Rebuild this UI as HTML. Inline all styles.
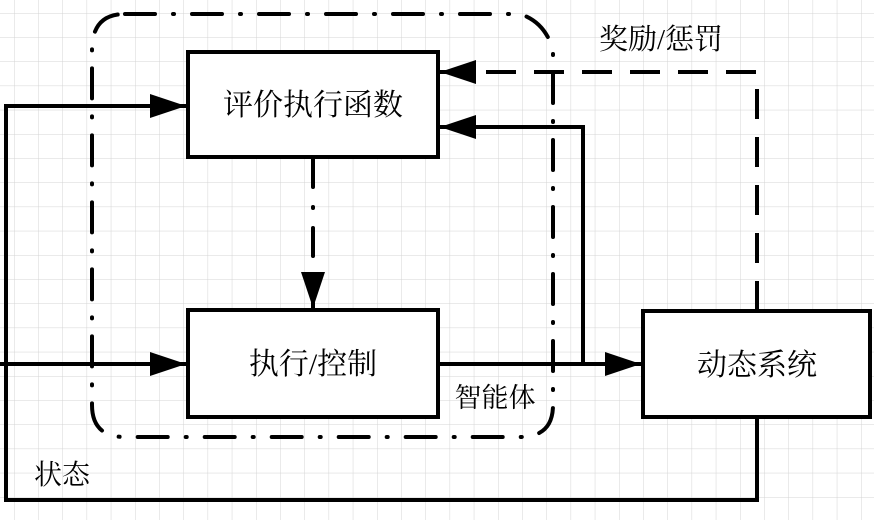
<!DOCTYPE html>
<html><head><meta charset="utf-8"><style>
html,body{margin:0;padding:0;background:#fff}
svg{display:block}
text{font-family:"Liberation Serif","Noto Serif CJK SC","Noto Sans CJK SC",serif;fill:#000}
</style></head><body>
<svg width="874" height="520" viewBox="0 0 874 520" xmlns="http://www.w3.org/2000/svg">
<defs>
<pattern id="g" width="24.2" height="24.2" patternUnits="userSpaceOnUse" x="14" y="13">
<path d="M0 0H24.2M0 0V24.2" stroke="#d4d4d4" stroke-width="1" fill="none"/>
</pattern>
<marker id="a" markerWidth="36" markerHeight="24" refX="36" refY="12" orient="auto" markerUnits="userSpaceOnUse">
<path d="M0 0L36 12L0 24Z" fill="#000"/>
</marker>
</defs>
<rect width="874" height="520" fill="url(#g)"/>
<path d="M125 14H520Q545 22 553 50V405Q553 437 520 437H125Q92 437 92 405V50Q92 14 125 14Z" fill="none" stroke="#000" stroke-width="4" stroke-linecap="round" stroke-dasharray="30 18 1 18"/>
<rect x="188" y="52" width="250" height="105" fill="#fff" stroke="#000" stroke-width="4"/>
<rect x="188" y="310" width="250" height="107" fill="#fff" stroke="#000" stroke-width="4"/>
<rect x="643" y="311" width="227" height="106" fill="#fff" stroke="#000" stroke-width="4"/>
<text x="313" y="115" font-size="30" text-anchor="middle">评价执行函数</text>
<text x="313" y="374" font-size="30" text-anchor="middle">执行/控制</text>
<text x="757" y="375" font-size="30" text-anchor="middle">动态系统</text>
<text x="495" y="407" font-size="27" text-anchor="middle">智能体</text>
<text x="661" y="49" font-size="29" text-anchor="middle">奖励/惩罚</text>
<text x="62" y="484" font-size="28" text-anchor="middle">状态</text>
<path d="M186 106H6V500H757V417" fill="none" stroke="#000" stroke-width="4"/>
<path d="M6 106H186" stroke="#000" stroke-width="4" marker-end="url(#a)"/>
<path d="M0 364H186" stroke="#000" stroke-width="4" marker-end="url(#a)"/>
<path d="M438 364H641" stroke="#000" stroke-width="4" marker-end="url(#a)"/>
<path d="M583 362V127H440" fill="none" stroke="#000" stroke-width="4" marker-end="url(#a)"/>
<path d="M757 311V72H440" fill="none" stroke="#000" stroke-width="4" stroke-dasharray="30 18" marker-end="url(#a)"/>
<path d="M313 159V290" fill="none" stroke="#000" stroke-width="4" stroke-linecap="round" stroke-dasharray="28 20 1 20"/>
<path d="M313 280V308" fill="none" stroke="#000" stroke-width="4" marker-end="url(#a)"/>
</svg>
</body></html>
